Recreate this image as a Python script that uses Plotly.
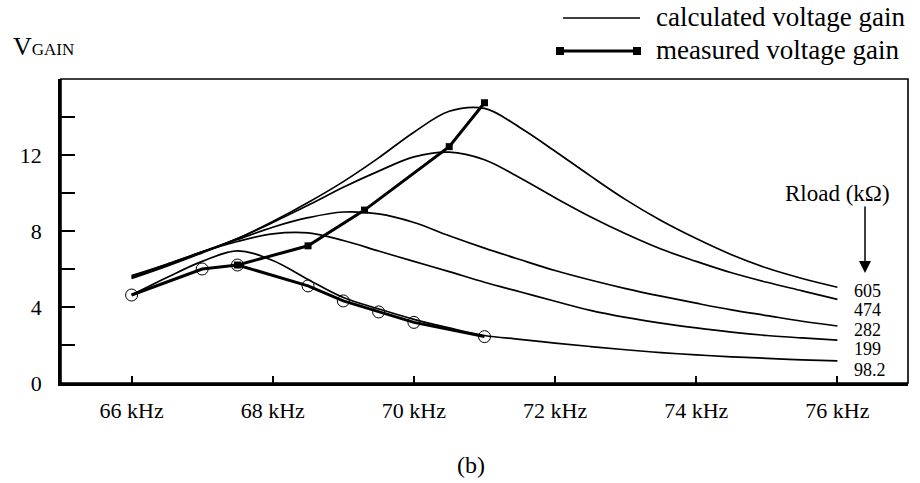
import plotly.graph_objects as go

# ---------------- data ----------------
freq_calc = [66, 66.5, 67, 67.5, 68, 68.5, 69, 69.5, 70, 70.5, 71, 71.5,
             72, 72.5, 73, 73.5, 74, 74.5, 75, 75.5, 76]
gain_605 = [5.5, 6.15, 6.85, 7.6, 8.5, 9.5, 10.6, 11.85, 13.2, 14.3, 14.45, 13.45,
            12.2, 10.9, 9.65, 8.55, 7.6, 6.75, 6.05, 5.5, 5.04]
gain_474 = [5.55, 6.2, 6.9, 7.6, 8.45, 9.35, 10.3, 11.15, 11.9, 12.15, 11.75, 10.8,
            9.75, 8.75, 7.85, 7.05, 6.4, 5.8, 5.3, 4.85, 4.4]
gain_282 = [5.65, 6.25, 6.9, 7.55, 8.2, 8.7, 9.0, 8.9, 8.45, 7.75, 7.1, 6.5,
            5.92, 5.42, 4.97, 4.57, 4.2, 3.85, 3.55, 3.25, 3.0]
gain_199 = [5.6, 6.25, 6.9, 7.45, 7.85, 7.9, 7.5, 6.95, 6.4, 5.86, 5.3, 4.8,
            4.3, 3.82, 3.45, 3.15, 2.9, 2.68, 2.5, 2.37, 2.26]
gain_98 = [4.63, 5.55, 6.4, 6.95, 6.45, 5.45, 4.5, 3.9, 3.35, 2.9, 2.5, 2.3,
           2.1, 1.92, 1.75, 1.6, 1.48, 1.38, 1.3, 1.22, 1.16]
calc_series = [("605", gain_605), ("474", gain_474), ("282", gain_282),
               ("199", gain_199), ("98.2", gain_98)]
label_y = [4.86, 3.84, 2.79, 1.79, 0.68]

freq_meas_low = [66, 67, 67.5, 68.5, 69, 69.5, 70, 71]
gain_meas_low = [4.63, 6.0, 6.21, 5.11, 4.32, 3.74, 3.19, 2.44]
freq_meas_high = [67.5, 68.5, 69.3, 70.5, 71]
gain_meas_high = [6.21, 7.22, 9.1, 12.44, 14.75]

x_ticks = [66, 68, 70, 72, 74, 76]
x_ticktext = ["66 kHz", "68 kHz", "70 kHz", "72 kHz", "74 kHz", "76 kHz"]
y_ticks = [0, 4, 8, 12]

FONT = "Liberation Serif, Times New Roman, serif"

fig = go.Figure()
for name, g in calc_series:
    fig.add_trace(go.Scatter(x=freq_calc, y=g, mode="lines", name=name,
                             line=dict(color="black", width=1.7, shape="spline", smoothing=1.0),
                             showlegend=False, hoverinfo="skip"))

fig.add_trace(go.Scatter(x=freq_meas_low, y=gain_meas_low, mode="lines+markers",
                         line=dict(color="black", width=3),
                         marker=dict(symbol="circle-open", size=12, color="black",
                                     line=dict(width=1)),
                         showlegend=False))
fig.add_trace(go.Scatter(x=freq_meas_high, y=gain_meas_high, mode="lines+markers",
                         line=dict(color="black", width=3),
                         marker=dict(symbol="square", size=7, color="black"),
                         showlegend=False))

# geometry (pixels)
L, R, T, B = 61, 908, 79, 383
W, H = 920, 483
def px(xp):
    return (xp - L) / (R - L)
def py(yp):
    return (B - yp) / (B - T)

shapes = []
shapes.append(dict(type="rect", xref="paper", yref="paper", x0=0, y0=0, x1=1, y1=1,
                   line=dict(color="black", width=1.6)))
# legend
shapes.append(dict(type="line", xref="paper", yref="paper", x0=px(563), x1=px(640),
                   y0=py(18), y1=py(18), line=dict(color="black", width=1.5)))
shapes.append(dict(type="line", xref="paper", yref="paper", x0=px(560), x1=px(637),
                   y0=py(51), y1=py(51), line=dict(color="black", width=3)))
for cx in (560, 637):
    shapes.append(dict(type="rect", xref="paper", yref="paper", x0=px(cx - 4), x1=px(cx + 4),
                       y0=py(55), y1=py(47), fillcolor="black", line=dict(color="black", width=0)))

annotations = [
    dict(text="calculated voltage gain", xref="paper", yref="paper", x=px(654), y=py(17),
         xanchor="left", yanchor="middle", showarrow=False, font=dict(size=27)),
    dict(text="measured voltage gain", xref="paper", yref="paper", x=px(654), y=py(50),
         xanchor="left", yanchor="middle", showarrow=False, font=dict(size=27)),
    dict(text="V<span style='font-size:17px'>GAIN</span>", xref="paper", yref="paper",
         x=px(11), y=py(46), xanchor="left", yanchor="middle", showarrow=False,
         font=dict(size=26)),
    dict(text="Rload (kΩ)", xref="paper", yref="paper", x=px(892), y=py(193),
         xanchor="right", yanchor="middle", showarrow=False, font=dict(size=23)),
    dict(text="", xref="paper", yref="paper", x=px(865), y=py(273), ax=0, ay=-68,
         showarrow=True, arrowhead=2, arrowsize=1.6, arrowwidth=1.5, arrowcolor="black"),
    dict(text="(b)", xref="paper", yref="paper", x=px(471), y=py(465),
         xanchor="center", yanchor="middle", showarrow=False, font=dict(size=24)),
]
for (name, _), ly in zip(calc_series, label_y):
    annotations.append(dict(text=name, x=76.2, y=ly, xref="x", yref="y",
                            xanchor="left", yanchor="middle", showarrow=False,
                            font=dict(size=18)))

fig.update_layout(
    width=W, height=H,
    margin=dict(l=L, r=W - R, t=T, b=H - B, pad=0),
    paper_bgcolor="white", plot_bgcolor="white",
    font=dict(family=FONT, color="black", size=22),
    shapes=shapes, annotations=annotations,
    xaxis=dict(range=[65, 77], tickvals=x_ticks, ticktext=x_ticktext,
               ticks="inside", ticklen=7, tickwidth=1.5, tickcolor="black",
               showgrid=False, zeroline=False, showline=True, linewidth=2.5,
               linecolor="black", ticklabelstandoff=6, tickfont=dict(size=22)),
    yaxis=dict(range=[0, 16], tickvals=y_ticks, ticks="inside", ticklen=14,
               tickwidth=1.5, tickcolor="black",
               minor=dict(dtick=2, ticks="inside", ticklen=14, tickwidth=1.5,
                          tickcolor="black", showgrid=False),
               showgrid=False, zeroline=False, showline=True, linewidth=2.5,
               linecolor="black", ticklabelstandoff=12, tickfont=dict(size=22)),
)

fig.write_html("out.html")
